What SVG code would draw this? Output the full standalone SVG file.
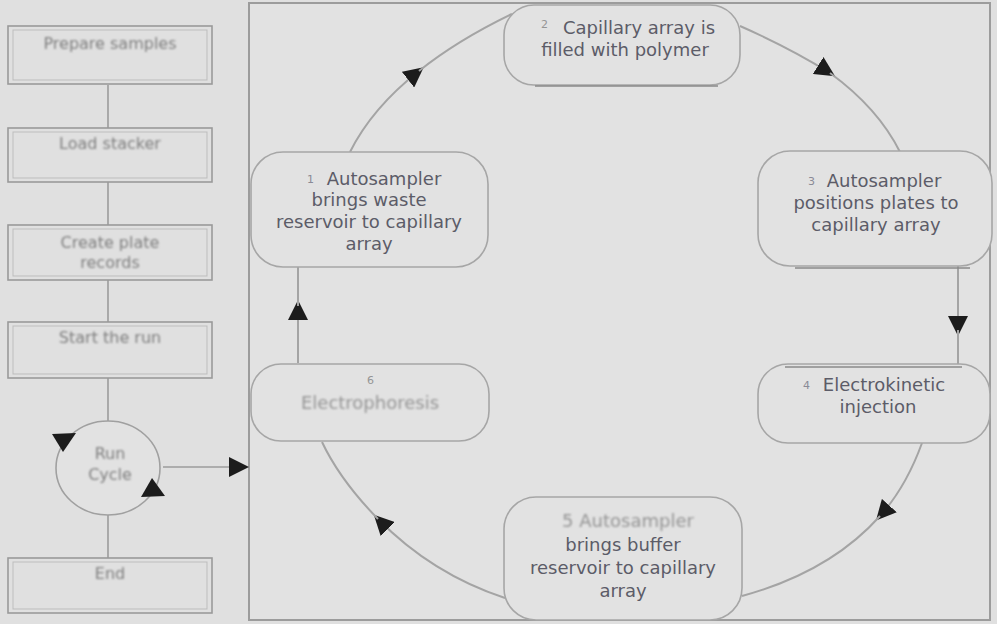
<svg xmlns="http://www.w3.org/2000/svg" width="997" height="624" viewBox="0 0 997 624">
<style>
.bg{fill:#e0e0e0}
.frame{fill:#e2e2e2;stroke:#9c9c9c;stroke-width:2}
.box{fill:none;stroke:#9a9a9a;stroke-width:1.6}
.boxin{fill:none;stroke:#bdbdbd;stroke-width:1}
.node{fill:#e2e2e2;stroke:#a6a6a6;stroke-width:1.6}
.shade{stroke:#8a8a8a;stroke-width:1.4}
.ltxt{font-family:"DejaVu Sans",sans-serif;font-size:16px;fill:#7e7e7e;text-anchor:middle}
.txt{font-family:"DejaVu Sans",sans-serif;font-size:18px;fill:#5c5c68;text-anchor:middle}
.num{font-family:"DejaVu Sans",sans-serif;font-size:11px;fill:#8a8a96}
.faint{fill:#959595}
.conn{fill:none;stroke:#a4a4a4;stroke-width:2}
.lconn{fill:none;stroke:#9c9c9c;stroke-width:1.6}
.head{fill:#1c1c1c}
</style>
<defs>
<marker id="ah" viewBox="0 0 10 10" refX="7" refY="5" markerWidth="20" markerHeight="20" markerUnits="userSpaceOnUse" orient="auto">
<path d="M0,0 L10,5 L0,10 z" fill="#1c1c1c"/>
</marker>
<filter id="blur" x="-5%" y="-20%" width="110%" height="140%"><feGaussianBlur stdDeviation="0.8"/></filter>
</defs>
<rect class="bg" x="0" y="0" width="997" height="624"/>
<rect class="frame" x="249" y="3" width="741" height="617"/>

<g id="left-connectors">
<line class="lconn" x1="108" y1="85" x2="108" y2="128"/>
<line class="lconn" x1="108" y1="182" x2="108" y2="225"/>
<line class="lconn" x1="108" y1="280" x2="108" y2="322"/>
<line class="lconn" x1="108" y1="378" x2="108" y2="421"/>
<line class="lconn" x1="108" y1="515" x2="108" y2="558"/>
<line class="lconn" x1="163" y1="467" x2="243" y2="467" marker-end="url(#ah)"/>
</g>

<g id="prepare-samples">
<rect class="box" x="8" y="26" width="204" height="58"/>
<rect class="boxin" x="13" y="30" width="194" height="50"/>
<text class="ltxt" x="110" y="49" filter="url(#blur)">Prepare samples</text>
</g>
<g id="load-stacker">
<rect class="box" x="8" y="128" width="204" height="54"/>
<rect class="boxin" x="13" y="132" width="194" height="46"/>
<text class="ltxt" x="110" y="149" filter="url(#blur)">Load stacker</text>
</g>
<g id="create-plate-records">
<rect class="box" x="8" y="225" width="204" height="55"/>
<rect class="boxin" x="13" y="229" width="194" height="47"/>
<text class="ltxt" x="110" y="248" filter="url(#blur)">Create plate</text>
<text class="ltxt" x="110" y="268" filter="url(#blur)">records</text>
</g>
<g id="start-the-run">
<rect class="box" x="8" y="322" width="204" height="56"/>
<rect class="boxin" x="13" y="326" width="194" height="48"/>
<text class="ltxt" x="110" y="343" filter="url(#blur)">Start the run</text>
</g>
<g id="run-cycle">
<ellipse cx="108" cy="468" rx="52" ry="47" fill="#e2e2e2" stroke="#a0a0a0" stroke-width="1.6"/>
<polygon class="head" points="52,434 76,433 63,452"/>
<polygon class="head" points="165,496 141,497 152,478"/>
<text class="ltxt" x="110" y="459" filter="url(#blur)">Run</text>
<text class="ltxt" x="110" y="480" filter="url(#blur)">Cycle</text>
</g>
<g id="end">
<rect class="box" x="8" y="558" width="204" height="55"/>
<rect class="boxin" x="13" y="562" width="194" height="47"/>
<text class="ltxt" x="110" y="579" filter="url(#blur)">End</text>
</g>

<g id="connectors">
<path class="conn" d="M350,152 Q372,108 419,71" marker-end="url(#ah)"/>
<path class="conn" d="M419,71 Q458,40 512,14"/>
<path class="conn" d="M740,26 Q790,48 830,73" marker-end="url(#ah)"/>
<path class="conn" d="M830,73 Q878,108 900,152"/>
<path class="conn" d="M958,266 L958,330" marker-end="url(#ah)"/>
<path class="conn" d="M958,330 L958,364"/>
<path class="conn" d="M922,443 Q906,487 880,516" marker-end="url(#ah)"/>
<path class="conn" d="M880,516 Q830,572 742,596"/>
<path class="conn" d="M505,598 Q432,574 378,519" marker-end="url(#ah)"/>
<path class="conn" d="M378,519 Q340,480 322,442"/>
<path class="conn" d="M298,363 L298,306" marker-end="url(#ah)"/>
<path class="conn" d="M298,306 L298,267"/>
</g>

<g id="node-2">
<rect class="node" x="504" y="5" width="236" height="80" rx="30"/>
<line class="shade" x1="535" y1="86" x2="718" y2="86"/>
<text class="num faint" x="541" y="28">2</text>
<text class="txt" x="639" y="34">Capillary array is</text>
<text class="txt" x="625" y="56">filled with polymer</text>
</g>
<g id="node-3">
<rect class="node" x="758" y="151" width="234" height="115" rx="32"/>
<line class="shade" x1="795" y1="268" x2="970" y2="268"/>
<text class="num" x="808" y="185">3</text>
<text class="txt" x="884" y="187">Autosampler</text>
<text class="txt" x="876" y="209">positions plates to</text>
<text class="txt" x="876" y="231">capillary array</text>
</g>
<g id="node-4">
<rect class="node" x="758" y="364" width="232" height="79" rx="30"/>
<line class="shade" x1="785" y1="367" x2="962" y2="367"/>
<text class="num" x="803" y="389">4</text>
<text class="txt" x="884" y="391">Electrokinetic</text>
<text class="txt" x="878" y="413">injection</text>
</g>
<g id="node-5">
<rect class="node" x="504" y="497" width="238" height="123" rx="32"/>
<text class="txt faint" x="628" y="527" filter="url(#blur)">5 Autosampler</text>
<text class="txt" x="623" y="551">brings buffer</text>
<text class="txt" x="623" y="574">reservoir to capillary</text>
<text class="txt" x="623" y="597">array</text>
</g>
<g id="node-6">
<rect class="node" x="251" y="364" width="238" height="77" rx="30"/>
<text class="num faint" x="367" y="384">6</text>
<text class="txt faint" x="370" y="409" filter="url(#blur)">Electrophoresis</text>
</g>
<g id="node-1">
<rect class="node" x="251" y="152" width="237" height="115" rx="32"/>
<text class="num" x="307" y="183">1</text>
<text class="txt" x="384" y="185">Autosampler</text>
<text class="txt" x="369" y="206">brings waste</text>
<text class="txt" x="369" y="228">reservoir to capillary</text>
<text class="txt" x="369" y="250">array</text>
</g>
</svg>
